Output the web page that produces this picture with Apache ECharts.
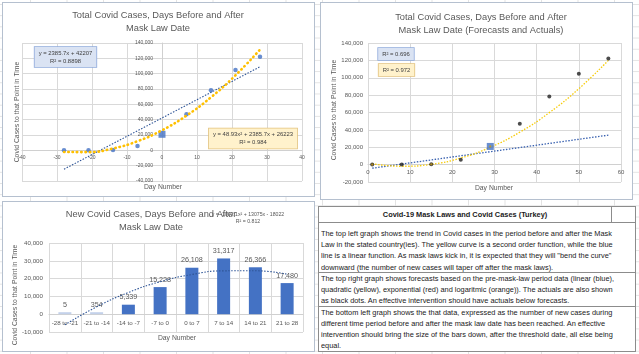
<!DOCTYPE html>
<html>
<head>
<meta charset="utf-8">
<script src="https://cdn.jsdelivr.net/npm/echarts@6/dist/echarts.min.js"></script>
<style>
html, body { margin: 0; padding: 0; }
body {
  width: 639px; height: 354px; position: relative; overflow: hidden; background: #fff;
  background-image: linear-gradient(to right, #e3e3e3 1px, transparent 1px),
                    linear-gradient(to bottom, #e3e3e3 1px, transparent 1px);
  background-size: 36.5px 11.2px;
  background-position: 30px 4px;
}
.box { position: absolute; background: #fff; border: 1.5px solid #b5c0cf; box-sizing: border-box; }
#chart { position: absolute; left: 0; top: 0; width: 639px; height: 354px; }
#notes { position: absolute; left: 318px; top: 206px; width: 318px; height: 146px; background: #fff;
  border: 1px solid #8c8c8c; box-sizing: border-box; font-family: 'Liberation Sans', Arial, sans-serif; color: #1a1a1a; }
.hline { position: absolute; left: 0; right: 0; height: 0; border-top: 1px solid #8c8c8c; }
.vline { position: absolute; top: 0; width: 0; height: 15px; border-left: 1px solid #8c8c8c; }
.ttl { position: absolute; top: 2px; left: 0; width: 293px; text-align: center; font-weight: bold;
  text-decoration: underline; font-size: 8px; line-height: 11px; white-space: nowrap; }
.para { position: absolute; left: 2px; font-size: 8px; line-height: 11.2px; white-space: nowrap; transform-origin: left top; }
</style>
</head>
<body>
<div class="box" style="left:2px;top:2px;width:313px;height:195px;"></div>
<div class="box" style="left:320px;top:2px;width:313px;height:198px;"></div>
<div class="box" style="left:2px;top:201px;width:313px;height:151px;"></div>
<div id="chart"></div>
<div id="notes">
  <div class="ttl"><span id="ttlText">Covid-19 Mask Laws and Covid Cases (Turkey)</span></div>
  <div class="vline" style="left:292px;"></div>
  <div class="hline" style="top:15px;"></div>
  <div class="hline" style="top:65px;"></div>
  <div class="hline" style="top:99px;"></div>
  <div class="para" id="p1" style="top:21px;"></div>
  <div class="para" id="p2" style="top:66px;"></div>
  <div class="para" id="p3" style="top:99.6px;"></div>
</div>
<script>
// cumulative cases, days before (-) and after (+) the mask law date
const totalDays = [-28, -21, -14, -7, 0, 7, 14, 21, 28];
const totalCases = [1, 6, 360, 5699, 20927, 47035, 78352, 104718, 122198];
const linDays = [-28, 28];
const linTrend = [-24593, 109007];
const quadTrend = [-2216, -2299, 2413, 11921, 26223, 45321, 69213, 97901, 131384];

// same actuals on a day-number axis, with forecasts from the pre-law period
const fcDays = [1, 8, 15, 22, 29, 36, 43, 50, 57];
const lawDay = 29;
const baseDays = [1, 15, 29];
const fcLinDays = [1, 57];
const fcLinTrend = [-4110, 33925];
const fcQuadTrend = [951, -1886, 337, 7622, 19969, 37378, 59849, 87380, 119974];

// new cases per week
const periods = ['-28 to -21', '-21 to -14', '-14 to -7', '-7 to 0', '0 to 7', '7 to 14', '14 to 21', '21 to 28'];
const newCases = [5, 354, 5339, 15228, 26108, 31317, 26366, 17480];
const newTrend = [-5949, 4120, 12185, 18246, 22303, 24356, 24405, 22450];

const notes = [
  ['The top left graph shows the trend in Covid cases in the period before and after the Mask',
   'Law in the stated country(ies).  The yellow curve is a second order function, while the blue',
   'line is a linear function.  As mask laws kick in, it is expected that they will "bend the curve"',
   'downward (the number of new cases will taper off after the mask laws).'],
  ['The top right graph shows forecasts based on the pre-mask-law period data (linear (blue),',
   'quadratic (yellow), exponential (red) and logaritmic (orange)).  The actuals are also shown',
   'as black dots.  An effective intervention should have actuals below forecasts.'],
  ['The bottom left graph shows the that data, expressed as the number of new cases during',
   'different time period before and after the mask law date has been reached.  An effective',
   'intervention should bring the size of the bars down, after the threshold date, all else being',
   'equal.']
];

const FONT = 'Liberation Sans';
const GREY = '#595959';
const fmt = v => v.toLocaleString('en-US');

// plot boxes, in page pixels
const g1 = { left: 22, top: 43, width: 280, height: 138 };
const g2 = { left: 368, top: 43, width: 253, height: 139 };
const g3 = { left: 49, top: 243, width: 254, height: 89 };

// pixel distance from the bottom (or left) edge to where the value 0 sits
function zeroShift(g, min, max, vertical) {
  return vertical ? g.height * (0 - min) / (max - min) : g.width * (0 - min) / (max - min);
}

function lbl(size, margin) {
  return { fontSize: size, color: GREY, fontFamily: FONT, margin: margin, formatter: fmt };
}
const split = { show: true, lineStyle: { color: '#d9d9d9', width: 1 } };
const axisLn = { show: true, onZero: false, lineStyle: { color: '#d0d0d0', width: 1 } };
const noTick = { show: false };

function txt(x, y, text, size, opts) {
  return Object.assign({
    type: 'text', x: x, y: y, z: 100,
    style: { text: text, fontSize: size, fontFamily: FONT, fill: GREY, align: 'center', verticalAlign: 'middle', lineHeight: size * 1.4 }
  }, opts || {});
}
function boxed(x, y, text, bg, border) {
  const t = txt(x, y, text, 5.9);
  t.style.fill = '#404040';
  t.style.backgroundColor = bg;
  t.style.borderColor = border;
  t.style.borderWidth = 0.8;
  t.style.padding = [2, 4];
  t.style.lineHeight = 8;
  return t;
}

var myChart = echarts.init(document.getElementById('chart'));

var option = {
  animation: false,
  grid: [g1, g2, g3],
  xAxis: [
    { gridIndex: 0, type: 'value', min: -40, max: 40, interval: 10, axisLine: axisLn, axisTick: noTick,
      offset: -zeroShift(g1, -40000, 140000, true),
      axisLabel: lbl(5, 5), splitLine: split },
    { gridIndex: 1, type: 'value', min: 0, max: 60, interval: 10, axisLine: axisLn, axisTick: noTick,
      offset: -zeroShift(g2, -20000, 140000, true),
      axisLabel: lbl(6, 5), splitLine: split },
    { gridIndex: 2, type: 'category', data: periods, axisLine: axisLn, axisTick: noTick,
      offset: -zeroShift(g3, -10000, 40000, true),
      axisLabel: { fontSize: 6.2, color: GREY, fontFamily: FONT, margin: 6, interval: 0 },
      splitLine: { show: true, interval: 0, lineStyle: { color: '#d9d9d9' } } }
  ],
  yAxis: [
    { gridIndex: 0, type: 'value', min: -40000, max: 140000, interval: 20000, axisLine: axisLn, axisTick: noTick,
      offset: -zeroShift(g1, -40, 40, false),
      axisLabel: lbl(5, 9), splitLine: split },
    { gridIndex: 1, type: 'value', min: -20000, max: 140000, interval: 20000, axisLine: { show: false }, axisTick: noTick,
      axisLabel: lbl(6, 5), splitLine: split },
    { gridIndex: 2, type: 'value', min: -10000, max: 40000, interval: 10000, axisLine: { show: false }, axisTick: noTick,
      axisLabel: lbl(6.2, 6), splitLine: split }
  ],
  series: [
    {
      type: 'scatter', xAxisIndex: 0, yAxisIndex: 0, symbolSize: 4.5, z: 3,
      itemStyle: { color: '#4472C4' },
      data: totalDays.map((d, i) => d === 0
        ? { value: [d, totalCases[i]], symbol: 'rect', symbolSize: 7 }
        : [d, totalCases[i]])
    },
    {
      type: 'line', xAxisIndex: 0, yAxisIndex: 0, showSymbol: false, z: 4,
      lineStyle: { color: '#2F5597', width: 1.1, type: [1.5, 1.5] },
      data: linDays.map((d, i) => [d, linTrend[i]])
    },
    {
      type: 'line', xAxisIndex: 0, yAxisIndex: 0, showSymbol: false, smooth: true, z: 4,
      lineStyle: { color: '#FFC000', width: 2.6, type: [0.5, 3.8], cap: 'round' },
      data: totalDays.map((d, i) => [d, quadTrend[i]])
    },
    {
      type: 'line', xAxisIndex: 1, yAxisIndex: 1, showSymbol: false, z: 2,
      lineStyle: { color: '#3A62B0', width: 1.3, type: [1.5, 1.5] },
      data: fcLinDays.map((d, i) => [d, fcLinTrend[i]])
    },
    {
      type: 'line', xAxisIndex: 1, yAxisIndex: 1, showSymbol: false, smooth: true, z: 2,
      lineStyle: { color: '#F7CC0A', width: 1.3, type: [1.5, 1.5] },
      data: fcDays.map((d, i) => [d, fcQuadTrend[i]])
    },
    {
      type: 'scatter', xAxisIndex: 1, yAxisIndex: 1, symbolSize: 4, z: 3,
      itemStyle: { color: '#1f1f1f' },
      data: fcDays.map((d, i) => d === lawDay
        ? { value: [d, totalCases[i]], symbol: 'rect', symbolSize: 7, itemStyle: { color: '#4472C4' } }
        : [d, totalCases[i]])
    },
    {
      type: 'scatter', xAxisIndex: 1, yAxisIndex: 1, symbolSize: 2.2, z: 5,
      itemStyle: { color: '#C99A10' },
      data: baseDays.map(d => [d, totalCases[fcDays.indexOf(d)]])
    },
    {
      type: 'bar', xAxisIndex: 2, yAxisIndex: 2, barWidth: 13, barMinHeight: 2,
      itemStyle: { color: p => p.value < 1000 ? '#c3d1ea' : '#4472C4' },
      label: { show: true, position: 'top', distance: 4, fontSize: 7.2, color: GREY, fontFamily: FONT,
        formatter: p => fmt(p.value) },
      data: newCases
    },
    {
      type: 'line', xAxisIndex: 2, yAxisIndex: 2, showSymbol: false, smooth: true, z: 4,
      lineStyle: { color: '#2F5597', width: 1.1, type: [1.5, 1.5] },
      data: newTrend
    }
  ],
  graphic: [
    txt(158, 21.5, 'Total Covid Cases, Days Before and After\nMask Law Date', 9.3, { z: 101 }),
    txt(481, 24, 'Total Covid Cases, Days Before and After\nMask Law Date (Forecasts and Actuals)', 9.3, { z: 101 }),
    txt(248, 218, 'y = -1002.1x² + 13075x - 18022\nR² = 0.812', 5.2, { z: 100 }),
    txt(151, 221, 'New Covid Cases, Days Before and After\nMask Law Date', 9.3, { z: 101 }),

    txt(17, 112, 'Covid Cases to that Point in Time', 6.8, { rotation: Math.PI / 2 }),
    txt(334, 110, 'Covid Cases to that Point in Time', 6.8, { rotation: Math.PI / 2 }),
    txt(15, 295, 'Covid Cases to that Point in Time', 6.8, { rotation: Math.PI / 2 }),
    txt(163, 187, 'Day Number', 6.8),
    txt(494, 188, 'Day Number', 6.8),
    txt(177, 338, 'Day Number', 6.8),

    boxed(65.5, 57, 'y = 2385.7x + 42207\nR² = 0.8898', '#dae3f3', '#8faadc'),
    boxed(253, 138.5, 'y = 48.93x² + 2385.7x + 26223\nR² = 0.984', '#fff2cc', '#e2c27d'),
    boxed(396, 54, 'R² = 0.696', '#dae3f3', '#8faadc'),
    boxed(396.5, 70, 'R² = 0.972', '#fff2cc', '#e2c27d')
  ]
};

myChart.setOption(option);

// notes table: fill lines, then squeeze them to the reference width
['p1', 'p2', 'p3'].forEach((id, k) => {
  const el = document.getElementById(id);
  notes[k].forEach(line => {
    const d = document.createElement('div');
    d.textContent = line;
    el.appendChild(d);
  });
});
const probe = document.createElement('span');
probe.textContent = notes[0][0];
probe.style.cssText = 'font-size:8px;white-space:nowrap;font-family:Liberation Sans;position:absolute;visibility:hidden';
document.body.appendChild(probe);
const k = 291 / probe.getBoundingClientRect().width;
['p1', 'p2', 'p3'].forEach(id => { document.getElementById(id).style.transform = 'scaleX(' + k + ')'; });
document.getElementById('ttlText').style.display = 'inline-block';
document.getElementById('ttlText').style.transform = 'scaleX(' + k + ')';
probe.remove();
</script>
</body>
</html>
